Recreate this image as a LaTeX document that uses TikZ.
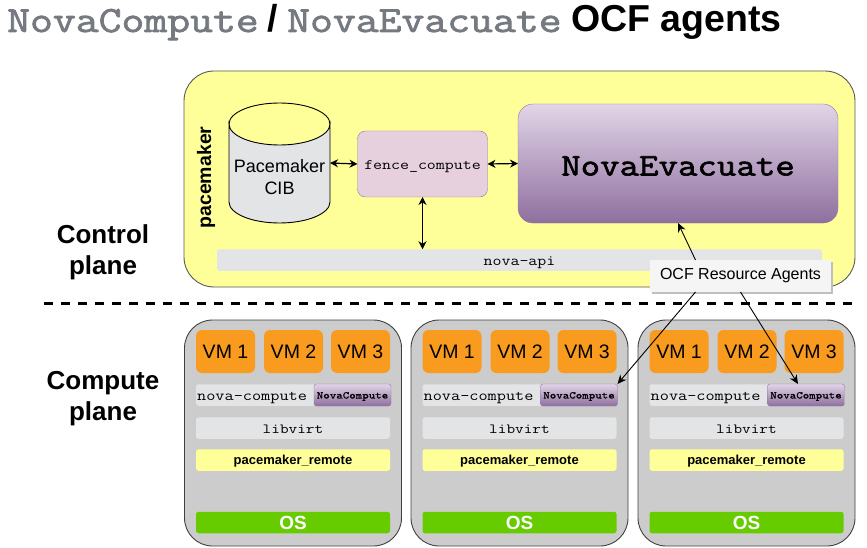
\documentclass[tikz,border=0pt]{standalone}
\usepackage{fontspec}
\setmainfont{Liberation Sans}
\newfontfamily\monoplain[FakeStretch=1.2]{Latin Modern Mono}
\newfontfamily\monoheavy[FakeStretch=1.2,FakeBold=2]{Latin Modern Mono}
\newfontfamily\monosmall[FakeStretch=1.2,FakeBold=1]{Latin Modern Mono}
\usetikzlibrary{arrows.meta,calc,shadows}
\definecolor{titlegray}{HTML}{757A80}
\definecolor{paleyellow}{HTML}{FFFF99}
\definecolor{barGray}{HTML}{E3E4E6}
\definecolor{hostGray}{HTML}{CCCCCC}
\definecolor{vmOrange}{HTML}{F99B1E}
\definecolor{osGreen}{HTML}{66CC00}
\definecolor{fenceFill}{HTML}{E6D0DE}
\definecolor{agentEdge}{HTML}{9673A6}
\definecolor{agentTop}{HTML}{E1D5E7}
\definecolor{agentBottom}{HTML}{8F6F9F}
\newcommand{\fsize}[1]{\fontsize{#1}{#1}\selectfont}
% text with its baseline a given drop below the node centre
\newcommand{\dropped}[2]{\raisebox{-#1pt}[0pt][0pt]{#2}}
\tikzset{
    bar/.style={fill=barGray, rounded corners=2.5, inner sep=0, outer sep=0, minimum width=#1, minimum height=21.5},
    vmbox/.style={fill=vmOrange, rounded corners=6, inner sep=0, outer sep=0, minimum width=59, minimum height=43, font=\fsize{19.5}},
    agent/.style={draw=agentEdge, top color=agentTop, bottom color=agentBottom, inner sep=0, outer sep=0},
    host/.style={draw=black!75, fill=hostGray, rounded corners=28, line width=0.9, inner sep=0, outer sep=0, minimum width=217, minimum height=226},
    planelabel/.style={font=\fsize{26}\bfseries, align=center, inner sep=0},
    titlepart/.style={anchor=base west, inner sep=0},
    link/.style={{Stealth[length=8pt,width=8pt]}-{Stealth[length=8pt,width=8pt]}, line width=1.2},
    pointer/.style={-{Stealth[length=9pt,width=8pt]}, line width=0.9}
}
\begin{document}
\begin{tikzpicture}[x=1pt, y=-1pt]
    \useasboundingbox (0,0) rectangle (867,548);

    % Title
    \node[titlepart, text=titlegray] (titlea) at (7,32) {\monoheavy\fsize{37}NovaCompute};
    \node[titlepart] (titleb) at (267.5,32) {\bfseries\fsize{37.5}/};
    \node[titlepart, text=titlegray] (titlec) at (287,32) {\monoheavy\fsize{37}NovaEvacuate};
    \node[titlepart] (titled) at (571,32) {\bfseries\fsize{37.5}OCF agents};

    % Control plane
    \node[fill=paleyellow, draw=black!65, rounded corners=30, line width=0.9, inner sep=0, outer sep=0, minimum width=671, minimum height=216] (pacebox) at (519.5,179) {};
    \node[rotate=90, font=\fsize{19.5}\bfseries, inner sep=0] (pacelabel) at (206,177.5) {pacemaker};
    \node[bar=605] (api) at (519.5,260) {\dropped{5}{\monoplain\fsize{14.5}nova-api}};
    % cylinder
    \draw[fill=barGray, line width=0.9] (229,124) -- (229,202) arc[start angle=180, end angle=0, x radius=50.5, y radius=21] -- (330,124) arc[start angle=0, end angle=180, x radius=50.5, y radius=21] -- cycle;
    \draw[line width=0.9] (229,124) arc[start angle=180, end angle=360, x radius=50.5, y radius=21];
    \node[inner sep=0, outer sep=0, minimum width=101, minimum height=120, align=center, font=\fsize{18}] (cib) at (279.5,163) {\\[23pt]Pacemaker\\[4pt]CIB};
    \node[fill=fenceFill, draw=agentEdge, rounded corners=8, inner sep=0, outer sep=0, minimum width=130, minimum height=66] (fence) at (422.5,164) {\dropped{5.5}{\monoplain\fsize{14.5}fence\_compute}};
    \node[agent, rounded corners=15, minimum width=320, minimum height=119] (evac) at (678,163.5) {\dropped{12}{\monoheavy\fsize{31.5}NovaEvacuate}};

    \draw[link] (cib.east) -- (fence.west);
    \draw[link] (fence.east) -- (evac.west);
    \draw[link] (fence.south) -- (fence.south |- api.north);

    % Separator and plane names
    \coordinate (sepl) at (44,303);
    \coordinate (sepr) at (858,303);
    \draw[line width=3, dash pattern=on 9pt off 8pt] (sepl) -- (sepr);
    \node[planelabel] (ctrl) at (103,252) {Control\\[5pt]plane};
    \node[planelabel] (comp) at (103,398.5) {Compute\\[5pt]plane};

    % Compute hosts
    \foreach \dx/\n in {0/a, 226.5/b, 453.5/c} {
        \begin{scope}[xshift=\dx pt]
            \node[host] (host\n) at (293,433) {};
            \node[vmbox] (vmone\n) at (225.5,351.5) {VM 1};
            \node[vmbox] (vmtwo\n) at (293.5,351.5) {VM 2};
            \node[vmbox] (vmthree\n) at (360.5,351.5) {VM 3};
            \node[bar=194] (nova\n) at (293,395) {};
            \node[anchor=base west, inner sep=0] (novatext\n) at (197,400) {\monoplain\fsize{14.8}nova-compute};
            \node[agent, rounded corners=2.5, minimum width=77, minimum height=22] (nc\n) at (352.5,395) {\dropped{3.5}{\monosmall\fsize{10.3}NovaCompute}};
            \node[bar=194] (virt\n) at (293,428) {\dropped{5}{\monoplain\fsize{14}libvirt}};
            \node[bar=194, fill=paleyellow, font=\fsize{13}\bfseries] (remote\n) at (293,460) {\dropped{4.5}{pacemaker\_remote}};
            \node[bar=194, fill=osGreen, text=white, font=\fsize{19}\bfseries] (os\n) at (293,522.5) {OS};
        \end{scope}
    }

    % Callout
    \node[fill=white!96!black, inner sep=0, outer sep=0, minimum width=181, minimum height=32, font=\fsize{16},
        drop shadow={shadow xshift=2pt, shadow yshift=-2pt, fill=black!25, opacity=1}] (ocf) at (740.5,276) {OCF Resource Agents};
    \draw[pointer] ($(ocf.south)+(-45,0)$) -- (ncb.north east);
    \draw[pointer] (ocf.south) -- ($(ncc.north)+(-8,0)$);
    \draw[pointer] ($(ocf.north)+(-45,0)$) -- (evac.south);
\end{tikzpicture}
\end{document}
